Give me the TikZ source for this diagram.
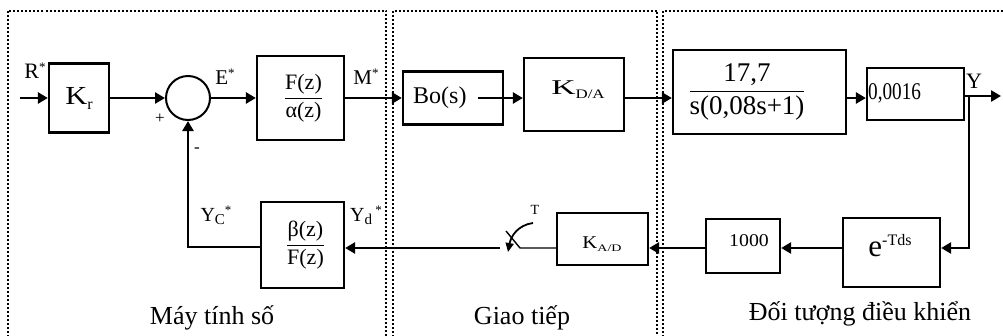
\documentclass[tikz,border=0pt]{standalone}
\usepackage{fontspec}
\setmainfont{Liberation Serif}
\usepackage{amsmath}
\usepackage{graphicx}
\usetikzlibrary{arrows.meta}
\newcommand{\fsz}[1]{\fontsize{#1}{#1}\selectfont}
\begin{document}
\begin{tikzpicture}[x=1pt,y=-1pt,
  blk/.style={draw, line width=2.2pt, inner sep=0pt},
  conn/.style={line width=2.6pt, -{Triangle[length=10pt,width=11pt]}},
  wire/.style={line width=2.6pt},
  thinw/.style={line width=1.4pt},
  panel/.style={line width=2pt, dash pattern=on 2pt off 2pt},
  lbl/.style={inner sep=0pt, font=\fsz{21}},
  capt/.style={inner sep=0pt, font=\fsz{26}}]
\useasboundingbox (0,0) rectangle (1003,335);
\clip (0,0) rectangle (1003,335);
% panels
\draw[panel] (8,345) -- (8,10.5) -- (386,10.5) -- (386,345);
\draw[panel] (393,345) -- (393,10.5) -- (657,10.5) -- (657,345);
\draw[panel] (663,345) -- (663,10.5) -- (1010,10.5);
% main row
\coordinate (in) at (20,98);
\node[blk, minimum width=60pt, minimum height=69pt] (kr) at (79,98)
  {\fsz{26}\scalebox{1.17}[1]{K}\raisebox{-5pt}{\fsz{16}r}};
\node[draw, circle, line width=2pt, minimum size=44pt, inner sep=0pt] (sum) at (188,98) {};
\node[blk, minimum width=87pt, minimum height=84pt, font=\fsz{22}] (fz) at (300.5,98)
  {\hspace*{6pt}$\dfrac{\text{F(z)}}{\text{α(z)}}$};
\node[blk, minimum width=100pt, minimum height=53pt] (bo) at (453,98) {};
\node[anchor=west, inner sep=0pt, font=\fsz{24}] (bot) at (413,98) {Bo(s)};
\coordinate (bo1) at ([xshift=-26pt]bo.east);
\node[blk, minimum width=100pt, minimum height=73pt] (kda) at (574,94.5) {};
\node[anchor=base, inner sep=0pt] (kdat) at (578,94)
  {\fsz{21}\scalebox{1.6}[1]{K}\raisebox{-4pt}{\scalebox{1.3}[1]{\fsz{13}D/A}}};
\node[blk, minimum width=173pt, minimum height=84pt] (pl) at (759.5,92) {};
\node[inner sep=0pt, font=\fsz{27}] (plt) at (747,92)
  {$\dfrac{\text{17,7}}{\text{s(0,08s+1)}}$};
\node[blk, minimum width=97pt, minimum height=52pt] (g) at (915.5,94) {};
\node[anchor=west, inner sep=0pt] (gt) at (868,93) {\scalebox{0.8}[1]{\fsz{24}0,0016}};
\coordinate (out) at (1001,96);
\coordinate (br) at (969,96);
\coordinate (fbk) at (969,248);
% bottom row
\node[blk, minimum width=97pt, minimum height=69pt] (e) at (891.5,252.5) {};
\node[anchor=base, inner sep=0pt] (et) at (890,256)
  {\fsz{31}e\raisebox{11pt}{\fsz{16}-Tds}};
\node[blk, minimum width=74pt, minimum height=54pt] (k1) at (743,246) {};
\node[anchor=base, inner sep=0pt] (k1t) at (749,246.5) {\scalebox{1.1}[1]{\fsz{18}1000}};
\node[blk, minimum width=91pt, minimum height=52pt] (kad) at (602.5,239) {};
\node[anchor=base, inner sep=0pt] (kadt) at (602,248)
  {\fsz{18}\scalebox{1.15}[1]{K}\raisebox{-3pt}{\scalebox{1.4}[1]{\fsz{10}A/D}}};
\node[blk, minimum width=83pt, minimum height=86pt, font=\fsz{22}] (fb) at (302.5,245)
  {\hspace*{6pt}$\dfrac{\text{β(z)}}{\text{F(z)}}$};
\coordinate (s1) at (520,248);
\coordinate (s0) at (500,248);
\coordinate (s2) at (506,231);
\coordinate (sa) at (533,223);
\coordinate (sb) at (508,252);
\coordinate (thk) at (463,248);
\coordinate (c1) at (188,247);
% connectors
\draw[conn] (in) -- (kr.west);
\draw[conn] (kr.east) -- (sum.west);
\draw[conn] (sum.east) -- (fz.west);
\draw[conn] (fz.east) -- (bo.west);
\draw[conn] (bo1) -- (kda.west |- bo1);
\draw[conn] (kda.east |- bo1) -- (pl.west |- bo1);
\draw[conn] (pl.east |- bo1) -- (g.west |- bo1);
\draw[conn] (g.east |- out) -- (out);
\draw[conn] (br) -- (fbk) -- (e.east |- fbk);
\draw[conn] (e.west |- fbk) -- (k1.east |- fbk);
\draw[conn] (k1.west |- fbk) -- (kad.east |- fbk);
\draw[thinw] (kad.west |- fbk) -- (s1) -- (s2);
\draw[line width=1.8pt, -{Triangle[length=9pt,width=8pt]}] (sa) .. controls (518,225) and (511,236) .. (sb);
\draw[thinw] (s0) -- (thk);
\draw[conn] (thk) -- (fb.east |- s0);
\draw[conn] (fb.west |- c1) -- (c1) -- (sum.south);
% labels
\node[lbl, font=\fsz{22}] (lr) at (35,71) {R\raisebox{7pt}{\fsz{13}*}};
\node[lbl] (le) at (225,77) {E\raisebox{7pt}{\fsz{13}*}};
\node[lbl] (lm) at (366,77) {M\raisebox{7pt}{\fsz{13}*}};
\node[lbl, font=\fsz{22}] (ly) at (974,81) {Y};
\node[lbl, font=\fsz{17}] (lp) at (160,119) {+};
\node[lbl, font=\fsz{17}] (ln) at (197,150) {-};
\node[lbl, font=\fsz{20}] (lyc) at (216,215) {Y\raisebox{-3pt}{\fsz{15}C}\raisebox{7pt}{\fsz{13}*}};
\node[lbl, font=\fsz{20}] (lyd) at (366,215) {Y\raisebox{-3pt}{\fsz{15}d}\,\raisebox{7pt}{\fsz{13}*}};
\node[lbl, font=\fsz{14}] (lt) at (535,210) {T};
\node[capt] (c1t) at (212,318) {Máy tính số};
\node[capt] (c2t) at (522,318) {Giao tiếp};
\node[capt] (c3t) at (860,314) {Đối tượng điều khiển};
\end{tikzpicture}
\end{document}
